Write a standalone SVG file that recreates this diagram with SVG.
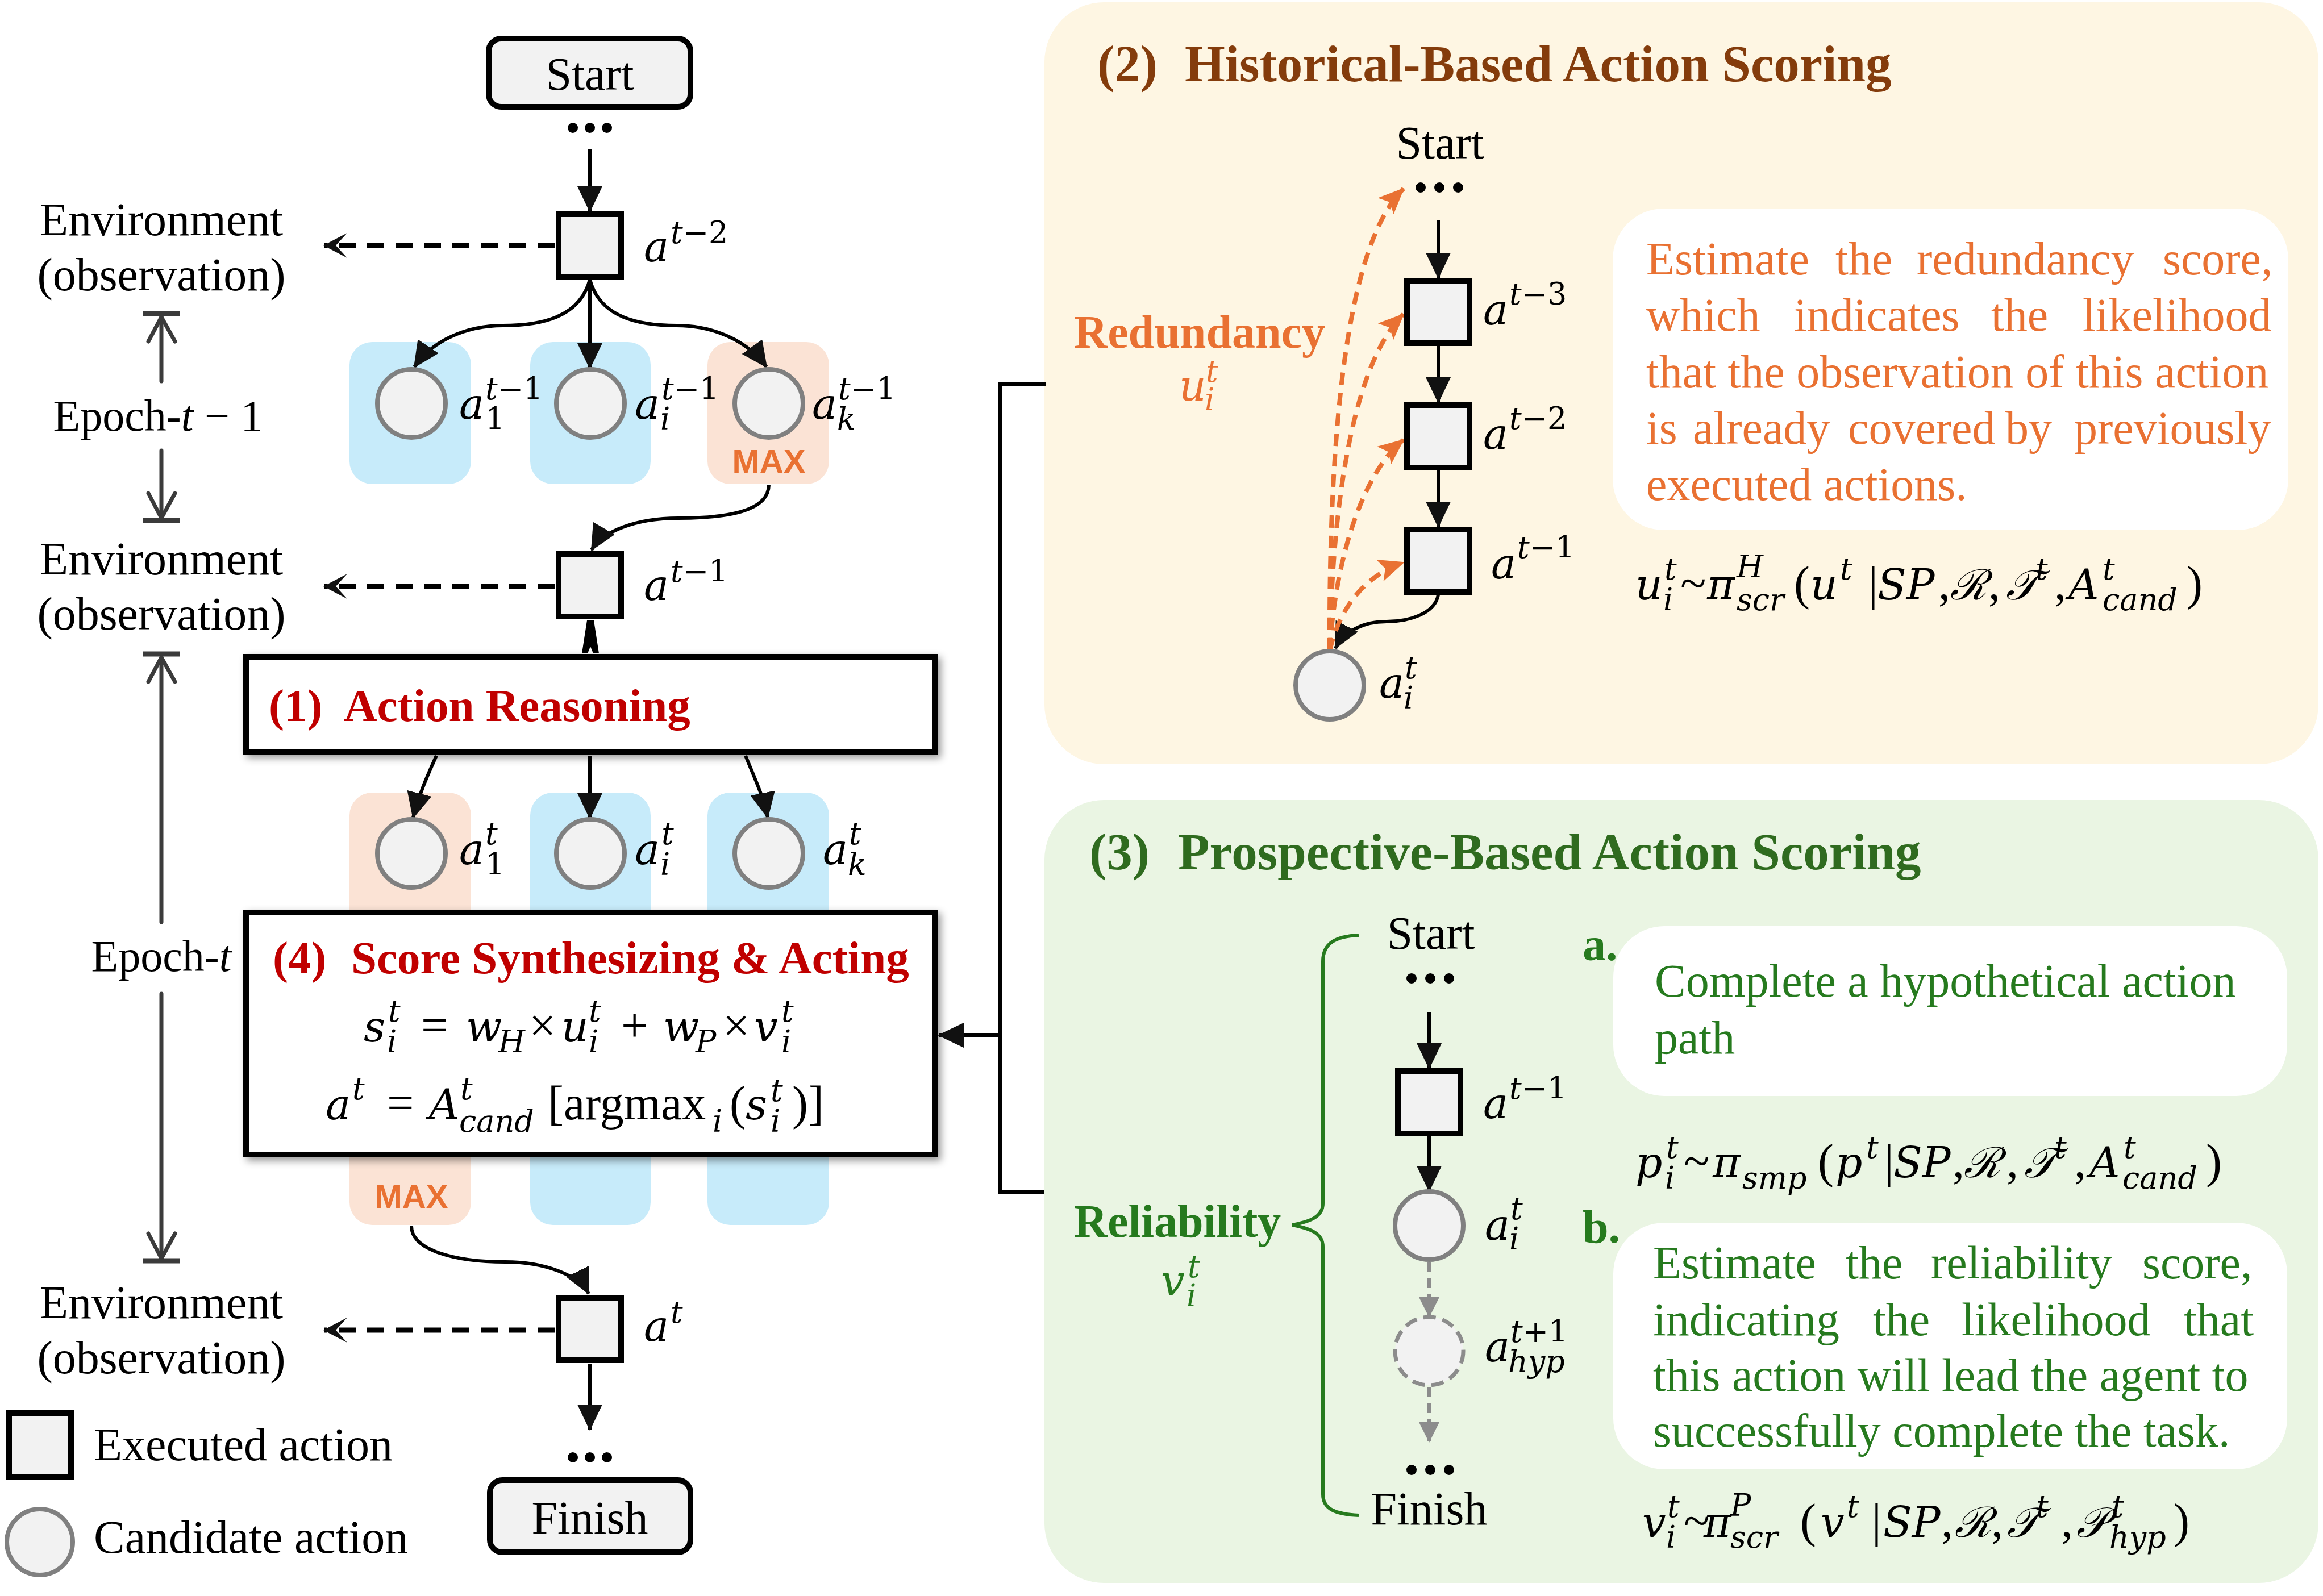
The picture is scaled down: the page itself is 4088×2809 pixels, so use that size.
<svg xmlns="http://www.w3.org/2000/svg" width="4088" height="2809" viewBox="0 0 4088 2809">
<defs>
<style>
text{font-family:"Liberation Serif","Times New Roman",serif;fill:#000}
.t{font-size:82px}
.t78{font-size:78px}
.hd{font-size:81px;font-weight:bold;fill:#C00000}
.ttl{font-size:91px;font-weight:bold}
.mi{font-family:"DejaVu Serif",serif;font-style:italic;font-size:74px}
.s{font-size:54px}
.r{font-style:normal}
.mu{font-family:"Liberation Serif",serif;font-style:normal;font-size:84px}
.it{font-style:italic}
.max{font-family:"Liberation Sans",Arial,sans-serif;font-size:58px;font-weight:bold;fill:#E97132}
.sq{fill:#f2f2f2;stroke:#000;stroke-width:10}
.cand{fill:#f2f2f2;stroke:#808080;stroke-width:8}
.hyp{fill:#f2f2f2;stroke:#8c8c8c;stroke-width:7;stroke-dasharray:22 12}
.blue{fill:#C7EBFA}
.peach{fill:#FBE3D5}
.ln{fill:none;stroke:#000;stroke-width:6}
.lnk{fill:none;stroke:#000;stroke-width:8}
.dash{fill:none;stroke:#000;stroke-width:9;stroke-dasharray:30 20}
.odash{fill:none;stroke:#E97132;stroke-width:8;stroke-dasharray:22 14}
.gdash{fill:none;stroke:#8c8c8c;stroke-width:6;stroke-dasharray:18 10}
.ep{fill:none;stroke:#3b3b3b;stroke-width:7;stroke-linecap:round;stroke-linejoin:round}
.bar{stroke:#3b3b3b;stroke-width:9}
.org{fill:#E97132}
.brn{fill:#843C0C}
.gt{fill:#2F6B1F}
.grn{fill:#267A1E}
.dot{fill:#000}
</style>
<marker id="ah" markerUnits="userSpaceOnUse" markerWidth="46" markerHeight="44" viewBox="0 0 46 44" refX="44" refY="22" orient="auto"><path d="M0,0 L46,22 L0,44 z" fill="#111"/></marker>
<marker id="eh" markerUnits="userSpaceOnUse" markerWidth="42" markerHeight="44" viewBox="0 0 42 44" refX="40" refY="22" orient="auto"><path d="M0,0 L42,22 L0,44 L20,22 z" fill="#111"/></marker>
<marker id="oh" markerUnits="userSpaceOnUse" markerWidth="46" markerHeight="40" viewBox="0 0 46 40" refX="44" refY="20" orient="auto"><path d="M0,0 L46,20 L0,40 L10,20 z" fill="#E97132"/></marker>
<marker id="gh" markerUnits="userSpaceOnUse" markerWidth="36" markerHeight="36" viewBox="0 0 36 36" refX="34" refY="18" orient="auto"><path d="M0,0 L36,18 L0,36 z" fill="#8c8c8c"/></marker>
<filter id="sh" x="-5%" y="-10%" width="112%" height="125%"><feDropShadow dx="6" dy="6" stdDeviation="7" flood-color="#000" flood-opacity="0.4"/></filter>
</defs>
<rect width="4088" height="2809" fill="#fff"/>

<!-- panels -->
<g id="panel-historical">
<rect x="1838" y="4" width="2242" height="1341" rx="105" fill="#FEF6E3"/>
<text class="ttl brn" y="143"><tspan x="1931">(2)</tspan><tspan x="2085">Historical-Based Action Scoring</tspan></text>
</g>
<g id="panel-prospective">
<rect x="1838" y="1408" width="2242" height="1378" rx="105" fill="#EAF5E3"/>
<text class="ttl gt" y="1530"><tspan x="1917">(3)</tspan><tspan x="2073">Prospective-Based Action Scoring</tspan></text>
</g>

<!-- candidate background pills -->
<g id="pills">
<rect x="615" y="602" width="214" height="250" rx="40" class="blue"/>
<rect x="933" y="602" width="212" height="250" rx="40" class="blue"/>
<rect x="1245" y="602" width="214" height="250" rx="40" class="peach"/>
<rect x="615" y="1395" width="214" height="761" rx="40" class="peach"/>
<rect x="933" y="1395" width="212" height="761" rx="40" class="blue"/>
<rect x="1245" y="1395" width="214" height="761" rx="40" class="blue"/>
<text class="max" x="1353" y="832" text-anchor="middle">MAX</text>
<text class="max" x="724" y="2126" text-anchor="middle">MAX</text>
</g>

<!-- connectors -->
<g id="connectors">
<line x1="1038" y1="262" x2="1038" y2="372" class="ln" marker-end="url(#ah)"/>
<path d="M1038,492 C1020,560 950,573 885,573 C820,573 760,600 729,646" class="ln" marker-end="url(#ah)"/>
<line x1="1038" y1="492" x2="1038" y2="648" class="ln" marker-end="url(#ah)"/>
<path d="M1038,492 C1056,560 1126,573 1191,573 C1256,573 1316,600 1349,646" class="ln" marker-end="url(#ah)"/>
<path d="M1353,853 C1353,900 1280,912 1193,912 C1120,912 1060,935 1041,968" class="ln" marker-end="url(#ah)"/>
<polygon points="1033,1092 1045,1092 1054,1150 1044,1150 1039,1138 1034,1150 1024,1150" fill="#000"/>
<path d="M768,1330 C750,1370 737,1400 727,1439" class="ln" marker-end="url(#ah)"/>
<line x1="1038" y1="1330" x2="1038" y2="1440" class="ln" marker-end="url(#ah)"/>
<path d="M1312,1330 C1328,1370 1343,1400 1351,1439" class="ln" marker-end="url(#ah)"/>
<path d="M724,2158 C724,2200 800,2221 889,2221 C960,2221 1020,2245 1036,2277" class="ln" marker-end="url(#ah)"/>
<line x1="1038" y1="2400" x2="1038" y2="2516" class="ln" marker-end="url(#ah)"/>
<line x1="976" y1="432" x2="571" y2="432" class="dash" marker-end="url(#eh)"/>
<line x1="976" y1="1032" x2="571" y2="1032" class="dash" marker-end="url(#eh)"/>
<line x1="976" y1="2341" x2="571" y2="2341" class="dash" marker-end="url(#eh)"/>
<polyline points="1841,676 1760,676 1760,2098 1838,2098" class="lnk"/>
<line x1="1760" y1="1822" x2="1652" y2="1822" class="lnk" marker-end="url(#ah)"/>
<line x1="2531" y1="388" x2="2531" y2="489" class="ln" marker-end="url(#ah)"/>
<line x1="2531" y1="609" x2="2531" y2="708" class="ln" marker-end="url(#ah)"/>
<line x1="2531" y1="828" x2="2531" y2="927" class="ln" marker-end="url(#ah)"/>
<path d="M2531,1047 C2525,1080 2480,1094 2440,1094 C2400,1094 2366,1110 2350,1141" class="ln" marker-end="url(#ah)"/>
<path d="M2340,1145 C2338,700 2380,420 2470,332" class="odash" marker-end="url(#oh)"/>
<path d="M2340,1145 C2345,850 2390,630 2470,553" class="odash" marker-end="url(#oh)"/>
<path d="M2340,1145 C2350,980 2400,830 2470,774" class="odash" marker-end="url(#oh)"/>
<path d="M2340,1145 C2360,1060 2410,1010 2470,990" class="odash" marker-end="url(#oh)"/>
<line x1="2515" y1="1781" x2="2515" y2="1880" class="ln" marker-end="url(#ah)"/>
<line x1="2515" y1="2000" x2="2515" y2="2096" class="ln" marker-end="url(#ah)"/>
<line x1="2515" y1="2221" x2="2515" y2="2317" class="gdash" marker-end="url(#gh)"/>
<line x1="2515" y1="2441" x2="2515" y2="2537" class="gdash" marker-end="url(#gh)"/>
</g>

<!-- epoch markers -->
<g id="epoch-t-1">
<line x1="252" y1="552" x2="317" y2="552" class="bar"/>
<line x1="284" y1="558" x2="284" y2="671" class="ep"/>
<polyline points="261,601 284,558 308,601" class="ep"/>
<text x="278" y="758" text-anchor="middle" class="t78">Epoch-<tspan class="it">t</tspan> − 1</text>
<line x1="284" y1="793" x2="284" y2="912" class="ep"/>
<polyline points="261,868 284,912 308,868" class="ep"/>
<line x1="252" y1="916" x2="317" y2="916" class="bar"/>
</g>
<g id="epoch-t">
<line x1="252" y1="1151" x2="317" y2="1151" class="bar"/>
<line x1="284" y1="1157" x2="284" y2="1623" class="ep"/>
<polyline points="261,1200 284,1157 308,1200" class="ep"/>
<text x="284" y="1709" text-anchor="middle" class="t78">Epoch-<tspan class="it">t</tspan></text>
<line x1="284" y1="1749" x2="284" y2="2215" class="ep"/>
<polyline points="261,2171 284,2215 308,2171" class="ep"/>
<line x1="252" y1="2219" x2="317" y2="2219" class="bar"/>
</g>

<!-- left column nodes -->
<g id="start"><rect x="860" y="68" width="355" height="120" rx="22" class="sq"/><text x="1038" y="158" text-anchor="middle" class="t">Start</text></g>
<g id="dots-top"><circle cx="1008" cy="225" r="9" class="dot"/><circle cx="1038" cy="225" r="9" class="dot"/><circle cx="1068" cy="225" r="9" class="dot"/></g>
<g id="env1"><text x="284" y="414" text-anchor="middle" class="t">Environment</text><text x="284" y="511" text-anchor="middle" class="t">(observation)</text></g>
<g id="env2"><text x="284" y="1011" text-anchor="middle" class="t">Environment</text><text x="284" y="1108" text-anchor="middle" class="t">(observation)</text></g>
<g id="env3"><text x="284" y="2320" text-anchor="middle" class="t">Environment</text><text x="284" y="2417" text-anchor="middle" class="t">(observation)</text></g>

<g id="a-t-2"><rect x="983" y="377" width="110" height="110" class="sq"/><text class="mi" x="1133" y="460">a</text><text class="mi s" x="1180" y="428">t<tspan class="r">−2</tspan></text></g>
<g id="cand-t-1-1"><circle cx="724" cy="710" r="60" class="cand"/><text class="mi" x="808" y="737">a</text><text class="mi s" x="854" y="703">t<tspan class="r">−1</tspan></text><text class="mi s r" x="854" y="756">1</text></g>
<g id="cand-t-1-i"><circle cx="1039" cy="710" r="60" class="cand"/><text class="mi" x="1117" y="737">a</text><text class="mi s" x="1164" y="703">t<tspan class="r">−1</tspan></text><text class="mi s" x="1162" y="756">i</text></g>
<g id="cand-t-1-k"><circle cx="1353" cy="710" r="60" class="cand"/><text class="mi" x="1429" y="737">a</text><text class="mi s" x="1475" y="703">t<tspan class="r">−1</tspan></text><text class="mi s" x="1473" y="756">k</text></g>
<g id="a-t-1"><rect x="983" y="975" width="110" height="110" class="sq"/><text class="mi" x="1133" y="1056">a</text><text class="mi s" x="1180" y="1024">t<tspan class="r">−1</tspan></text></g>

<g id="action-reasoning"><rect x="433" y="1156" width="1212" height="167" fill="#fff" stroke="#000" stroke-width="10" filter="url(#sh)"/><text class="hd" y="1269"><tspan x="473">(1)</tspan><tspan x="605">Action Reasoning</tspan></text></g>

<g id="cand-t-1"><circle cx="724" cy="1502" r="60" class="cand"/><text class="mi" x="808" y="1521">a</text><text class="mi s" x="854" y="1486">t</text><text class="mi s r" x="854" y="1540">1</text></g>
<g id="cand-t-i"><circle cx="1039" cy="1502" r="60" class="cand"/><text class="mi" x="1117" y="1521">a</text><text class="mi s" x="1164" y="1486">t</text><text class="mi s" x="1162" y="1540">i</text></g>
<g id="cand-t-k"><circle cx="1353" cy="1502" r="60" class="cand"/><text class="mi" x="1448" y="1521">a</text><text class="mi s" x="1494" y="1486">t</text><text class="mi s" x="1492" y="1540">k</text></g>

<g id="score-synthesizing">
<rect x="433" y="1606" width="1212" height="426" fill="#fff" stroke="#000" stroke-width="10" filter="url(#sh)"/>
<text class="hd" y="1713"><tspan x="480">(4)</tspan><tspan x="618">Score Synthesizing &amp; Acting</tspan></text>
<text class="mi"><tspan x="640" y="1833">s</tspan><tspan class="s" x="683" y="1798">t</tspan><tspan class="s" x="681" y="1852">i</tspan><tspan class="mu" x="741" y="1833">=</tspan><tspan x="820" y="1833">w</tspan><tspan class="s" x="877" y="1852">H</tspan><tspan class="mu" x="931" y="1833">×</tspan><tspan x="988" y="1833">u</tspan><tspan class="s" x="1036" y="1798">t</tspan><tspan class="s" x="1036" y="1852">i</tspan><tspan class="mu" x="1093" y="1833">+</tspan><tspan x="1167" y="1833">w</tspan><tspan class="s" x="1224" y="1852">P</tspan><tspan class="mu" x="1272" y="1833">×</tspan><tspan x="1327" y="1833">v</tspan><tspan class="s" x="1375" y="1798">t</tspan><tspan class="s" x="1375" y="1852">i</tspan></text>
<text class="mi"><tspan x="573" y="1970">a</tspan><tspan class="s" x="620" y="1935">t</tspan><tspan class="mu" x="681" y="1970">=</tspan><tspan x="755" y="1970">A</tspan><tspan class="s" x="810" y="1935">t</tspan><tspan class="s" x="808" y="1992">cand</tspan><tspan class="mu" x="964" y="1970">[argmax</tspan><tspan class="s" x="1254" y="1992">i</tspan><tspan class="mu" x="1284" y="1970">(</tspan><tspan x="1312" y="1970">s</tspan><tspan class="s" x="1356" y="1938">t</tspan><tspan class="s" x="1356" y="1992">i</tspan><tspan class="mu" x="1394" y="1970">)]</tspan></text>
</g>

<g id="a-t"><rect x="983" y="2284" width="110" height="110" class="sq"/><text class="mi" x="1133" y="2360">a</text><text class="mi s" x="1180" y="2328">t</text></g>
<g id="dots-bottom"><circle cx="1008" cy="2565" r="9" class="dot"/><circle cx="1038" cy="2565" r="9" class="dot"/><circle cx="1068" cy="2565" r="9" class="dot"/></g>
<g id="finish"><rect x="862" y="2605" width="353" height="127" rx="22" class="sq"/><text x="1038" y="2699" text-anchor="middle" class="t">Finish</text></g>

<g id="legend-executed"><rect x="16" y="2487" width="109" height="112" class="sq"/><text x="165" y="2570" class="t">Executed action</text></g>
<g id="legend-candidate"><circle cx="70" cy="2714" r="58" class="cand"/><text x="165" y="2733" class="t">Candidate action</text></g>

<!-- panel 2 content -->
<g id="h-redundancy"><text x="2111" y="612" text-anchor="middle" class="t org" font-weight="bold">Redundancy</text><text class="mi org" x="2075" y="705">u</text><text class="mi s org" x="2122" y="672">t</text><text class="mi s org" x="2120" y="722">i</text></g>
<g id="h-start"><text x="2534" y="279" text-anchor="middle" class="t">Start</text><circle cx="2500" cy="330" r="9" class="dot"/><circle cx="2533" cy="330" r="9" class="dot"/><circle cx="2566" cy="330" r="9" class="dot"/></g>
<g id="h-a-t-3"><rect x="2476" y="494" width="110" height="110" class="sq"/><text class="mi" x="2610" y="571">a</text><text class="mi s" x="2656" y="536">t<tspan class="r">−3</tspan></text></g>
<g id="h-a-t-2"><rect x="2476" y="713" width="110" height="110" class="sq"/><text class="mi" x="2610" y="790">a</text><text class="mi s" x="2656" y="755">t<tspan class="r">−2</tspan></text></g>
<g id="h-a-t-1"><rect x="2476" y="932" width="110" height="110" class="sq"/><text class="mi" x="2624" y="1018">a</text><text class="mi s" x="2670" y="982">t<tspan class="r">−1</tspan></text></g>
<g id="h-cand"><circle cx="2340" cy="1206" r="60" class="cand"/><text class="mi" x="2427" y="1228">a</text><text class="mi s" x="2472" y="1194">t</text><text class="mi s" x="2470" y="1247">i</text></g>
<g id="h-desc">
<rect x="2838" y="367" width="1189" height="566" rx="90" fill="#fff"/>
<text class="t org" y="483"><tspan x="2897">Estimate</tspan><tspan x="3230">the</tspan><tspan x="3373">redundancy</tspan><tspan x="3806">score,</tspan></text>
<text class="t org" y="582"><tspan x="2897">which</tspan><tspan x="3157">indicates</tspan><tspan x="3504">the</tspan><tspan x="3665">likelihood</tspan></text>
<text class="t org" x="2897" y="682">that the observation of this action</text>
<text class="t org" y="781"><tspan x="2897">is</tspan><tspan x="2979">already</tspan><tspan x="3252">covered</tspan><tspan x="3529">by</tspan><tspan x="3650">previously</tspan></text>
<text class="t org" x="2897" y="880">executed actions.</text>
</g>
<g id="h-formula"><text class="mi"><tspan x="2878" y="1055">u</tspan><tspan class="s" x="2929" y="1020">t</tspan><tspan class="s" x="2927" y="1074">i</tspan><tspan class="mu" x="2957" y="1055">~</tspan><tspan x="3004" y="1055">π</tspan><tspan class="s" x="3056" y="1016">H</tspan><tspan class="s" x="3056" y="1074">scr</tspan><tspan class="mu" x="3157" y="1055">(</tspan><tspan x="3186" y="1055">u</tspan><tspan class="s" x="3238" y="1020">t</tspan><tspan class="mu" x="3288" y="1055">|</tspan><tspan x="3304" y="1055">SP</tspan><tspan class="mu" x="3411" y="1055">,</tspan><tspan x="3432" y="1055">ℛ</tspan><tspan class="mu" x="3499" y="1055">,</tspan><tspan x="3530" y="1055">𝒯</tspan><tspan class="s" x="3582" y="1020">t</tspan><tspan class="mu" x="3615" y="1055">,</tspan><tspan x="3640" y="1055">A</tspan><tspan class="s" x="3700" y="1020">t</tspan><tspan class="s" x="3700" y="1074">cand</tspan><tspan class="mu" x="3848" y="1055">)</tspan></text></g>

<!-- panel 3 content -->
<g id="p-reliability"><path d="M2391,1646 C2350,1648 2328,1660 2328,1692 L2328,2118 C2328,2142 2305,2150 2274,2156 C2305,2162 2328,2170 2328,2194 L2328,2630 C2328,2656 2350,2665 2391,2667" fill="none" stroke="#267A1E" stroke-width="6"/><text x="2072" y="2177" text-anchor="middle" class="t grn" font-weight="bold">Reliability</text><text class="mi grn" x="2043" y="2280">v</text><text class="mi s grn" x="2090" y="2248">t</text><text class="mi s grn" x="2088" y="2299">i</text></g>
<g id="p-start"><text x="2518" y="1670" text-anchor="middle" class="t">Start</text><circle cx="2484" cy="1722" r="9" class="dot"/><circle cx="2517" cy="1722" r="9" class="dot"/><circle cx="2550" cy="1722" r="9" class="dot"/></g>
<g id="p-a-t-1"><rect x="2460" y="1885" width="110" height="110" class="sq"/><text class="mi" x="2610" y="1968">a</text><text class="mi s" x="2656" y="1934">t<tspan class="r">−1</tspan></text></g>
<g id="p-cand"><circle cx="2515" cy="2157" r="60" class="cand"/><text class="mi" x="2613" y="2182">a</text><text class="mi s" x="2658" y="2146">t</text><text class="mi s" x="2656" y="2199">i</text></g>
<g id="p-hyp"><circle cx="2515" cy="2378" r="60" class="hyp"/><text class="mi" x="2613" y="2396">a</text><text class="mi s" x="2658" y="2362">t<tspan class="r">+1</tspan></text><text class="mi s" x="2654" y="2415">hyp</text></g>
<g id="p-finish"><circle cx="2484" cy="2587" r="9" class="dot"/><circle cx="2517" cy="2587" r="9" class="dot"/><circle cx="2550" cy="2587" r="9" class="dot"/><text x="2515" y="2683" text-anchor="middle" class="t">Finish</text></g>
<g id="p-step-a">
<text x="2785" y="1690" class="t grn" font-weight="bold">a.</text>
<rect x="2839" y="1630" width="1186" height="299" rx="90" fill="#fff"/>
<text class="t grn" x="2912" y="1754">Complete a hypothetical action</text>
<text class="t grn" x="2912" y="1854">path</text>
</g>
<g id="p-formula-p"><text class="mi"><tspan x="2878" y="2072">p</tspan><tspan class="s" x="2932" y="2038">t</tspan><tspan class="s" x="2930" y="2092">i</tspan><tspan class="mu" x="2963" y="2072">~</tspan><tspan x="3014" y="2072">π</tspan><tspan class="s" x="3066" y="2092">smp</tspan><tspan class="mu" x="3199" y="2072">(</tspan><tspan x="3230" y="2072">p</tspan><tspan class="s" x="3284" y="2038">t</tspan><tspan class="mu" x="3316" y="2072">|</tspan><tspan x="3332" y="2072">SP</tspan><tspan class="mu" x="3436" y="2072">,</tspan><tspan x="3456" y="2072">ℛ</tspan><tspan class="mu" x="3531" y="2072">,</tspan><tspan x="3562" y="2072">𝒯</tspan><tspan class="s" x="3615" y="2038">t</tspan><tspan class="mu" x="3650" y="2072">,</tspan><tspan x="3677" y="2072">A</tspan><tspan class="s" x="3737" y="2038">t</tspan><tspan class="s" x="3735" y="2092">cand</tspan><tspan class="mu" x="3882" y="2072">)</tspan></text></g>
<g id="p-step-b">
<text x="2785" y="2187" class="t grn" font-weight="bold">b.</text>
<rect x="2839" y="2152" width="1186" height="434" rx="90" fill="#fff"/>
<text class="t grn" y="2250"><tspan x="2909">Estimate</tspan><tspan x="3248">the</tspan><tspan x="3398">reliability</tspan><tspan x="3770">score,</tspan></text>
<text class="t grn" y="2350"><tspan x="2909">indicating</tspan><tspan x="3296">the</tspan><tspan x="3452">likelihood</tspan><tspan x="3843">that</tspan></text>
<text class="t grn" x="2909" y="2448">this action will lead the agent to</text>
<text class="t grn" x="2909" y="2546">successfully complete the task.</text>
</g>
<g id="p-formula-v"><text class="mi"><tspan x="2890" y="2705">v</tspan><tspan class="s" x="2934" y="2670">t</tspan><tspan class="s" x="2932" y="2724">i</tspan><tspan class="mu" x="2963" y="2705">~</tspan><tspan x="2998" y="2705">π</tspan><tspan class="s" x="3045" y="2668">P</tspan><tspan class="s" x="3045" y="2724">scr</tspan><tspan class="mu" x="3168" y="2705">(</tspan><tspan x="3204" y="2705">v</tspan><tspan class="s" x="3250" y="2670">t</tspan><tspan class="mu" x="3294" y="2705">|</tspan><tspan x="3314" y="2705">SP</tspan><tspan class="mu" x="3416" y="2705">,</tspan><tspan x="3440" y="2705">ℛ</tspan><tspan class="mu" x="3504" y="2705">,</tspan><tspan x="3532" y="2705">𝒯</tspan><tspan class="s" x="3583" y="2670">t</tspan><tspan class="mu" x="3627" y="2705">,</tspan><tspan x="3654" y="2705">𝒫</tspan><tspan class="s" x="3716" y="2670">t</tspan><tspan class="s" x="3712" y="2724">hyp</tspan><tspan class="mu" x="3825" y="2705">)</tspan></text></g>
</svg>
